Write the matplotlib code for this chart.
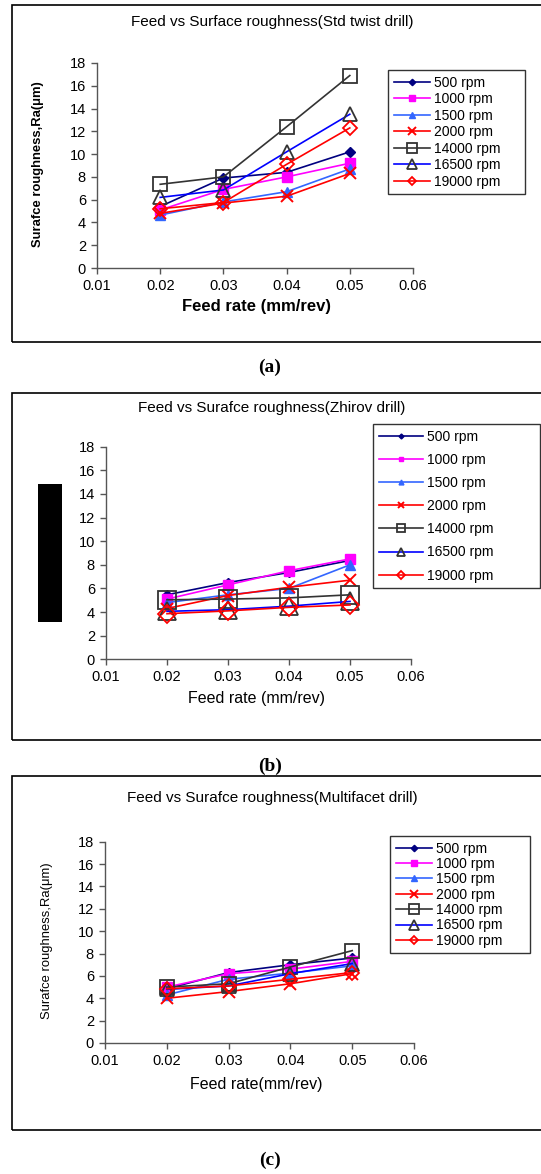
import matplotlib
matplotlib.use("Agg")
import matplotlib.pyplot as plt
from matplotlib.patches import Rectangle

W, H = 541, 1174

feed = [0.02, 0.03, 0.04, 0.05]
labels = ['500 rpm', '1000 rpm', '1500 rpm', '2000 rpm', '14000 rpm', '16500 rpm', '19000 rpm']

std_twist = {
    '500 rpm':   [5.4, 7.9, 8.4, 10.2],
    '1000 rpm':  [5.1, 6.9, 8.0, 9.2],
    '1500 rpm':  [4.65, 5.8, 6.7, 8.7],
    '2000 rpm':  [4.8, 5.7, 6.3, 8.3],
    '14000 rpm': [7.35, 8.0, 12.4, 16.9],
    '16500 rpm': [6.2, 6.85, 10.2, 13.5],
    '19000 rpm': [5.2, 5.75, 9.1, 12.3],
}
zhirov = {
    '500 rpm':   [5.46, 6.5, 7.35, 8.37],
    '1000 rpm':  [5.1, 6.3, 7.5, 8.5],
    '1500 rpm':  [4.8, 5.46, 6.0, 8.0],
    '2000 rpm':  [4.3, 5.4, 6.1, 6.7],
    '14000 rpm': [5.04, 5.1, 5.2, 5.46],
    '16500 rpm': [4.06, 4.2, 4.5, 4.9],
    '19000 rpm': [3.86, 4.1, 4.4, 4.6],
}
multifacet = {
    '500 rpm':   [4.85, 6.3, 7.0, 7.6],
    '1000 rpm':  [5.0, 6.2, 6.6, 7.3],
    '1500 rpm':  [4.3, 5.7, 6.25, 6.9],
    '2000 rpm':  [4.0, 4.6, 5.3, 6.2],
    '14000 rpm': [5.0, 5.3, 6.8, 8.26],
    '16500 rpm': [4.8, 5.1, 6.2, 7.1],
    '19000 rpm': [4.85, 5.1, 5.7, 6.3],
}
xticks = [0.01, 0.02, 0.03, 0.04, 0.05, 0.06]
yticks = list(range(0, 19, 2))

styles = {
    '500 rpm':   dict(color='#000080', marker='D', mfc='#000080', mec='#000080', ms=5),
    '1000 rpm':  dict(color='#FF00FF', marker='s', mfc='#FF00FF', mec='#FF00FF', ms=7),
    '1500 rpm':  dict(color='#3366FF', marker='^', mfc='#3366FF', mec='#3366FF', ms=7),
    '2000 rpm':  dict(color='#FF0000', marker='x', mfc='#FF0000', mec='#FF0000', ms=8, mew=1.4),
    '14000 rpm': dict(color='#333333', marker='s', mfc='none', mec='#333333', ms=10, mew=1.3),
    '16500 rpm': dict(color='#0000FF', marker='^', mfc='none', mec='#333333', ms=10, mew=1.3),
    '19000 rpm': dict(color='#FF0000', marker='D', mfc='none', mec='#FF0000', ms=7, mew=1.3),
}

SANS = 'Liberation Sans'
SERIF = 'Liberation Serif'
plt.rcParams['font.family'] = [SANS, 'DejaVu Sans']

fig = plt.figure(figsize=(W / 100, H / 100), dpi=100)

def fx(px):
    return px / W

def fy(py):
    return 1 - py / H

def add_axes(left, top, right, bottom):
    return fig.add_axes([fx(left), fy(bottom), (right - left) / W, (bottom - top) / H])

def frame(left, top, right, bottom):
    fig.patches.append(Rectangle((fx(left), fy(bottom)), (right - left) / W, (bottom - top) / H,
                                 transform=fig.transFigure, fill=False, ec='black', lw=1.2))

panels = [
    dict(data=std_twist, frame=(12, 5, 545, 342), ax=(97, 63, 413, 268),
         title='Feed vs Surface roughness(Std twist drill)', title_y=22,
         xlabel='Feed rate (mm/rev)', xlabel_y=307, bold=True, ylabel_x=38, ylabel_c=164,
         leg=(388, 70, 525, 196), cap='(a)', cap_y=367, scale=1.0, legms=0.65, ls=0.18),
    dict(data=zhirov, frame=(12, 393, 545, 740), ax=(106, 446.7, 411, 659.3),
         title='Feed vs Surafce roughness(Zhirov drill)', title_y=408,
         xlabel='Feed rate (mm/rev)', xlabel_y=698, bold=False, ylabel_x=None, ylabel_c=None,
         leg=(373, 424, 540, 590), cap='(b)', cap_y=766, scale=1.25, legms=0.5, ls=0.66),
    dict(data=multifacet, frame=(12, 776, 545, 1130), ax=(105, 841.7, 414, 1043),
         title='Feed vs Surafce roughness(Multifacet drill)', title_y=798,
         xlabel='Feed rate(mm/rev)', xlabel_y=1085, bold=False, ylabel_x=47, ylabel_c=941,
         leg=(390, 836, 530, 954), cap='(c)', cap_y=1160, scale=1.0, legms=0.65, ls=0.1),
]

for p in panels:
    frame(*p['frame'])
    ax = add_axes(*p['ax'])
    for lab in labels:
        st = dict(styles[lab])
        if lab in ('14000 rpm', '16500 rpm', '19000 rpm'):
            st['ms'] = st['ms'] * p['scale']
        ax.plot(feed, p['data'][lab], label=lab, lw=1.2, **st)
    ax.set_xlim(0.01, 0.06)
    ax.set_ylim(0, 18)
    ax.set_xticks(xticks)
    ax.set_xticklabels(['%.2f' % v for v in xticks])
    ax.set_yticks(yticks)
    ax.set_facecolor('none')
    for s in ('top', 'right'):
        ax.spines[s].set_visible(False)
    for s in ('left', 'bottom'):
        ax.spines[s].set_color('#555555')
        ax.spines[s].set_linewidth(1.0)
    ax.tick_params(direction='out', length=4, width=1, color='#555555',
                   labelsize=10.5, pad=4)
    fw = 'bold' if p['bold'] else 'normal'
    fig.text(fx(272), fy(p['title_y']), p['title'], ha='center', va='center', fontsize=11)
    fig.text(fx(256), fy(p['xlabel_y']), p['xlabel'], ha='center', va='center',
             fontsize=12 if p['bold'] else 11.5, fontweight=fw)
    if p['ylabel_x'] is not None:
        fig.text(fx(p['ylabel_x']), fy(p['ylabel_c']), 'Surafce roughness,Ra(μm)',
                 rotation=90, ha='center', va='center', fontsize=9.4, fontweight=fw)
    else:
        fig.patches.append(Rectangle((fx(38), fy(622)), 24 / W, 138 / H,
                                     transform=fig.transFigure, fc='black', ec='none'))
    l, t, r, b = p['leg']
    leg = ax.legend(loc='upper left', bbox_to_anchor=(fx(l), fy(b), (r - l) / W, (b - t) / H),
                    bbox_transform=fig.transFigure, mode='expand', fontsize=10,
                    frameon=True, fancybox=False, edgecolor='black', borderaxespad=0,
                    handlelength=3.2 if p['legms'] < 0.6 else 2.6,
                    labelspacing=p['ls'], markerscale=p['legms'],
                    borderpad=0.4, handletextpad=0.3)
    leg.get_frame().set_linewidth(1.0)
    fig.text(fx(270), fy(p['cap_y']), p['cap'], ha='center', va='center', fontsize=14,
             fontweight='bold', family=SERIF)

fig.savefig('out.png', dpi=100)
